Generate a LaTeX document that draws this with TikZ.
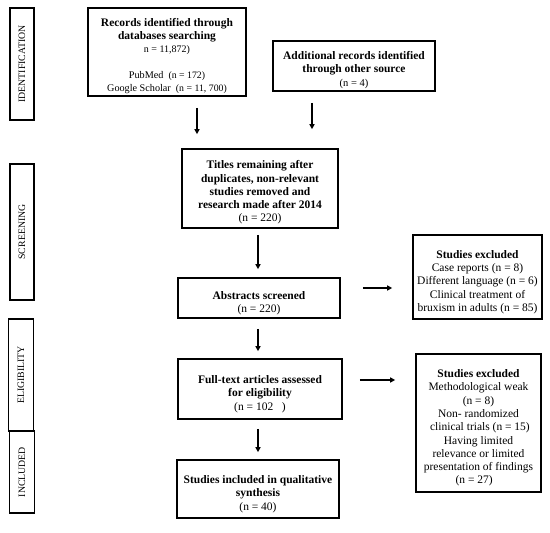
\documentclass[tikz,border=0pt]{standalone}
\usepackage{fontspec}
\setmainfont{Liberation Serif}
\usetikzlibrary{arrows.meta}
\begin{document}
\begin{tikzpicture}[x=1pt,y=-1pt,
  frame/.style={draw,line width=1.6pt,inner sep=0pt},
  txt/.style={align=center,inner sep=0pt,font=\fontsize{11.5}{13.3}\selectfont},
  phase/.style={draw,line width=1.6pt,inner sep=0pt,rotate=90,
    font=\fontsize{9.8}{11}\selectfont},
  arr/.style={line width=1.3pt,-{Triangle[length=5pt,width=5pt]}}]
\useasboundingbox (0,0) rectangle (550,533);
% phase labels
\node[phase,minimum width=112pt,minimum height=24pt] (pid) at (22,64) {IDENTIFICATION};
\node[phase,minimum width=136pt,minimum height=24pt] (pscr) at (22,232) {SCREENING};
\node[phase,minimum width=112pt,minimum height=25pt] (pel) at (21,375) {ELIGIBILITY};
\node[phase,minimum width=82pt,minimum height=25pt] (pinc) at (22,472) {INCLUDED};
% frames
\node[frame,minimum width=158pt,minimum height=88pt] (rec) at (167,52) {};
\node[frame,minimum width=162pt,minimum height=50pt] (add) at (354,66) {};
\node[frame,minimum width=156pt,minimum height=79pt] (tit) at (260,188.5) {};
\node[frame,minimum width=162pt,minimum height=40pt] (abs) at (259,298) {};
\node[frame,minimum width=164pt,minimum height=60pt] (full) at (260,389) {};
\node[frame,minimum width=162pt,minimum height=58pt] (inc) at (258,489) {};
\node[frame,minimum width=129pt,minimum height=84pt] (ex1) at (477.5,277) {};
\node[frame,minimum width=125pt,minimum height=138pt] (ex2) at (478.5,423) {};
% texts
\node[txt] (rect) at ([yshift=-4pt]rec.center)
  {\textbf{Records identified through}\\\textbf{databases searching}\\
   {\fontsize{10}{12}\selectfont n = 11,872)}\\[12pt]
   {\fontsize{10.2}{12}\selectfont PubMed~ {\fontsize{9.8}{11}\selectfont(n = 172)}}\\
   {\fontsize{10.2}{12}\selectfont Google Scholar~ {\fontsize{9.8}{11}\selectfont(n = 11, 700)}}};
\node[txt] (addt) at ([yshift=-4pt]add.center)
  {\textbf{Additional records identified}\\\textbf{through other source}\\{\fontsize{10.5}{12}\selectfont(n = 4)}};
\node[txt] (titt) at ([yshift=-4pt]tit.center)
  {\textbf{Titles remaining after}\\\textbf{duplicates, non-relevant}\\\textbf{studies removed and}\\\textbf{research made after 2014}\\(n = 220)};
\node[txt] (abst) at ([yshift=-5pt]abs.center)
  {\textbf{Abstracts screened}\\(n = 220)};
\node[txt] (fullt) at ([yshift=-5pt]full.center)
  {\textbf{Full-text articles assessed}\\\textbf{for eligibility}\\(n = 102~~ )};
\node[txt] (inct) at ([yshift=-5pt]inc.center)
  {\textbf{Studies included in qualitative}\\\textbf{synthesis}\\(n = 40)};
\node[txt] (ex1t) at ([yshift=-5pt]ex1.center)
  {\textbf{Studies excluded}\\Case reports (n = 8)\\Different language (n = 6)\\Clinical treatment of\\bruxism in adults (n = 85)};
\node[txt] (ex2t) at ([yshift=-5pt]ex2.center)
  {\textbf{Studies excluded}\\Methodological weak\\(n = 8)\\Non- randomized\\~clinical trials (n = 15)\\Having limited\\relevance or limited\\presentation of findings\\(n = 27)~~~~};
% arrows
\draw[arr,shorten <=11pt,shorten >=14pt] ([xshift=30pt]rec.south) -- ([xshift=-63pt]tit.north);
\draw[arr,shorten <=11pt,shorten >=19pt] ([xshift=-42pt]add.south) -- ([xshift=52pt]tit.north);
\draw[arr,shorten <=6pt,shorten >=8pt] ([xshift=-2pt]tit.south) -- ([xshift=-1pt]abs.north);
\draw[arr,shorten <=10pt,shorten >=7pt] ([xshift=-1pt]abs.south) -- ([xshift=-2pt]full.north);
\draw[arr,shorten <=9pt,shorten >=7pt] ([xshift=-2pt]full.south) -- (inc.north);
\draw[arr,shorten <=22pt,shorten >=20pt] ([yshift=10pt]abs.east) -- ([yshift=-11pt]ex1.west);
\draw[arr,shorten <=17pt,shorten >=20pt] ([yshift=9pt]full.east) -- ([yshift=43pt]ex2.west);
\end{tikzpicture}
\end{document}
